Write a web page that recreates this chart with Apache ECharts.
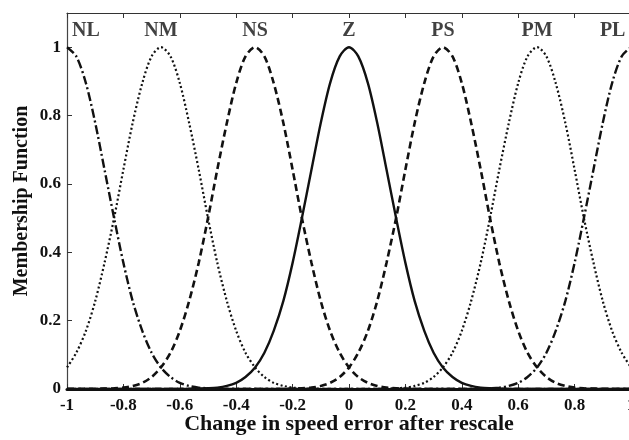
<!DOCTYPE html>
<html>
<head>
<meta charset="utf-8">
<script src="https://cdn.jsdelivr.net/npm/echarts@6/dist/echarts.min.js"></script>
<style>html,body{margin:0;padding:0;background:#fff;}#c{width:629px;height:440px;}</style>
</head>
<body>
<div id="c"></div>
<script>
// x sample positions (change in speed error after rescale)
var xs = [-1,-0.967,-0.933,-0.9,-0.867,-0.833,-0.8,-0.767,-0.733,-0.7,
  -0.667,-0.633,-0.6,-0.567,-0.533,-0.5,-0.467,-0.433,-0.4,-0.367,
  -0.333,-0.3,-0.267,-0.233,-0.2,-0.167,-0.133,-0.1,-0.067,-0.033,
  0,0.033,0.067,0.1,0.133,0.167,0.2,0.233,0.267,0.3,
  0.333,0.367,0.4,0.433,0.467,0.5,0.533,0.567,0.6,0.633,
  0.667,0.7,0.733,0.767,0.8,0.833,0.867,0.9,0.933,0.967,
  1];
var NL = [1,.973,.895,.779,.642,.5,.369,.257,.17,.106,
  .063,.035,.018,.009,.004,.002,.001,0,0,0,
  0,0,0,0,0,0,0,0,0,0,
  0,0,0,0,0,0,0,0,0,0,
  0,0,0,0,0,0,0,0,0,0,
  0,0,0,0,0,0,0,0,0,0,
  0];
var NM = [.063,.106,.17,.257,.369,.5,.642,.779,.895,.973,
  1,.973,.895,.779,.642,.5,.369,.257,.17,.106,
  .063,.035,.018,.009,.004,.002,.001,0,0,0,
  0,0,0,0,0,0,0,0,0,0,
  0,0,0,0,0,0,0,0,0,0,
  0,0,0,0,0,0,0,0,0,0,
  0];
var NS = [0,0,0,0,.001,.002,.004,.009,.018,.035,
  .063,.106,.17,.257,.369,.5,.642,.779,.895,.973,
  1,.973,.895,.779,.642,.5,.369,.257,.17,.106,
  .063,.035,.018,.009,.004,.002,.001,0,0,0,
  0,0,0,0,0,0,0,0,0,0,
  0,0,0,0,0,0,0,0,0,0,
  0];
var Z = [0,0,0,0,0,0,0,0,0,0,
  0,0,0,0,.001,.002,.004,.009,.018,.035,
  .063,.106,.17,.257,.369,.5,.642,.779,.895,.973,
  1,.973,.895,.779,.642,.5,.369,.257,.17,.106,
  .063,.035,.018,.009,.004,.002,.001,0,0,0,
  0,0,0,0,0,0,0,0,0,0,
  0];
var PS = [0,0,0,0,0,0,0,0,0,0,
  0,0,0,0,0,0,0,0,0,0,
  0,0,0,0,.001,.002,.004,.009,.018,.035,
  .063,.106,.17,.257,.369,.5,.642,.779,.895,.973,
  1,.973,.895,.779,.642,.5,.369,.257,.17,.106,
  .063,.035,.018,.009,.004,.002,.001,0,0,0,
  0];
var PM = [0,0,0,0,0,0,0,0,0,0,
  0,0,0,0,0,0,0,0,0,0,
  0,0,0,0,0,0,0,0,0,0,
  0,0,0,0,.001,.002,.004,.009,.018,.035,
  .063,.106,.17,.257,.369,.5,.642,.779,.895,.973,
  1,.973,.895,.779,.642,.5,.369,.257,.17,.106,
  .063];
var PL = [0,0,0,0,0,0,0,0,0,0,
  0,0,0,0,0,0,0,0,0,0,
  0,0,0,0,0,0,0,0,0,0,
  0,0,0,0,0,0,0,0,0,0,
  0,0,0,0,.001,.002,.004,.009,.018,.035,
  .063,.106,.17,.257,.369,.5,.642,.779,.895,.973,
  1];
// curve labels
var labelNames = ['NL','NM','NS','Z','PS','PM','PL'];
var labelX = [-0.933,-0.667,-0.333,0,0.333,0.667,0.935];
var labelY = 1.048;
var xTicks = {min: -1, max: 1, interval: 0.2};
var yTicks = {min: 0, max: 1.1, interval: 0.2};

var FONT = "'Liberation Serif','DejaVu Serif',serif";
var dashDot = [9,3,2,3];
var dotted = [2,2.5];
var dashed = [7,4];
var curves = [
  {name:'NL', data:NL, type:dashDot, w:2.4},
  {name:'NM', data:NM, type:dotted, w:2.2},
  {name:'NS', data:NS, type:dashed, w:2.6},
  {name:'Z', data:Z, type:'solid', w:2.4},
  {name:'PS', data:PS, type:dashed, w:2.6},
  {name:'PM', data:PM, type:dotted, w:2.2},
  {name:'PL', data:PL, type:dashDot, w:2.4}
];
function pairs(ys){ return xs.map(function(x,i){ return [x, ys[i]]; }); }

var series = curves.map(function(c){
  return {
    name: c.name, type: 'line', data: pairs(c.data), smooth: 0.3,
    showSymbol: false, symbol: 'none', silent: true, clip: true,
    lineStyle: {color: '#111', width: c.w, type: c.type}
  };
});
series.push({
  type: 'scatter', symbolSize: 0, silent: true,
  data: labelNames.map(function(n,i){ return {value:[labelX[i], labelY], name:n}; }),
  label: {show: true, position: 'inside', formatter: '{b}', color: '#111',
    fontFamily: FONT, fontWeight: 'bold', fontSize: 20}
});

var chart = echarts.init(document.getElementById('c'));
chart.setOption({
  animation: false,
  backgroundColor: '#fff',
  grid: {left: 67, right: -2, top: 13, bottom: 51, containLabel: false, outerBoundsMode: 'none'},
  xAxis: [{
    type: 'value', min: xTicks.min, max: xTicks.max, interval: xTicks.interval,
    position: 'bottom',
    name: 'Change in speed error after rescale', nameLocation: 'middle', nameGap: 24,
    nameMoveOverlap: false,
    nameTextStyle: {fontFamily: FONT, fontWeight: 'bold', fontSize: 22, color: '#111'},
    axisLine: {show: true, onZero: false, lineStyle: {color: '#111', width: 3}},
    axisTick: {show: true, inside: true, length: 5, lineStyle: {color: '#333'}},
    axisLabel: {fontFamily: FONT, fontWeight: 'bold', fontSize: 17, color: '#111', margin: 8,
      formatter: function(v){ return String(+v.toFixed(1)); }},
    splitLine: {show: false}
  },{
    type: 'value', min: xTicks.min, max: xTicks.max, interval: xTicks.interval,
    position: 'top',
    axisLine: {show: true, onZero: false, lineStyle: {color: '#333', width: 1.2}},
    axisTick: {show: true, inside: true, length: 5, lineStyle: {color: '#333'}},
    axisLabel: {show: false},
    splitLine: {show: false}
  }],
  yAxis: {
    type: 'value', min: yTicks.min, max: yTicks.max, interval: yTicks.interval,
    name: 'Membership Function', nameLocation: 'middle', nameGap: 35,
    nameMoveOverlap: false,
    nameTextStyle: {fontFamily: FONT, fontWeight: 'bold', fontSize: 20, color: '#111'},
    axisLine: {show: true, onZero: false, lineStyle: {color: '#444', width: 1.2}},
    axisTick: {show: true, inside: true, length: 5, lineStyle: {color: '#333'}},
    axisLabel: {fontFamily: FONT, fontWeight: 'bold', fontSize: 17, color: '#111', margin: 6,
      showMaxLabel: false,
      formatter: function(v){ return v > 1.05 ? '' : String(+v.toFixed(1)); }},
    splitLine: {show: false}
  },
  series: series
});
</script>
</body>
</html>
